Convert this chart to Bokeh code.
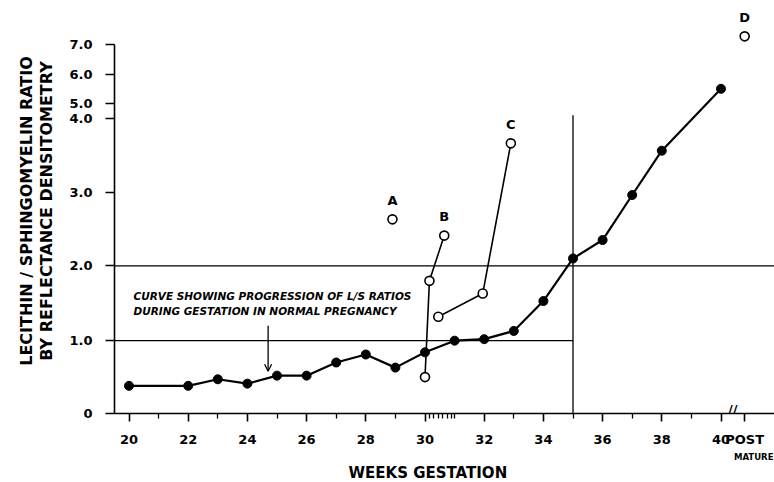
import numpy as np
from bokeh.plotting import figure
from bokeh.models import FixedTicker, CustomJSTickFormatter, Span, Label, Arrow, OpenHead, Title
from bokeh.embed import file_html
from bokeh.resources import INLINE

# ---------------- data ----------------
weeks_normal = [20, 22, 23, 24, 25, 26, 27, 28, 29, 30, 31, 32, 33, 34, 35, 36, 37, 38, 40]
ls_normal = [0.38, 0.38, 0.47, 0.41, 0.52, 0.52, 0.70, 0.81, 0.63, 0.84, 1.00, 1.02,
             1.13, 1.53, 2.10, 2.35, 2.96, 3.56, 5.50]

case_names = ["A", "B", "C", "D"]
case_weeks = [[28.9], [30.0, 30.15, 30.65], [30.45, 31.95, 32.9], [40.8]]
case_ls = [[2.63], [0.50, 1.80, 2.41], [1.32, 1.63, 3.66], [7.27]]

post_mature_week = 40.8
break_week = 40.4
ref_week = 35
ref_ls_low = 1.0
ref_ls_high = 2.0
ref_ls_top = 4.2

note_lines = ["CURVE SHOWING PROGRESSION OF L/S RATIOS",
              "DURING GESTATION IN NORMAL PREGNANCY"]
note_week = 20.15
note_ls = [1.6, 1.4]
arrow_week = 24.7
arrow_ls = [1.2, 0.58]

x_major = [20, 22, 24, 26, 28, 30, 32, 34, 36, 38, 40]
x_minor = [21, 23, 25, 27, 29, 31, 33, 35, 37, 39]
x_fine = [30.15, 30.3, 30.45, 30.6, 30.75, 30.9]

y_tick_values = [0, 1, 2, 3, 4, 5, 6, 7]
y_tick_labels = ["0", "1.0", "2.0", "3.0", "4.0", "5.0", "6.0", "7.0"]
# the printed ratio scale is not linear: position of each tick on the page
y_tick_pos = [0, 73, 148, 222, 296, 311, 340, 370]

x_title = "WEEKS GESTATION"
y_title = "LECITHIN / SPHINGOMYELIN RATIO\nBY REFLECTANCE DENSITOMETRY"


def ypos(v):
    v = np.atleast_1d(np.asarray(v, dtype=float))
    out = np.interp(v, y_tick_values, y_tick_pos)
    slope = (y_tick_pos[-1] - y_tick_pos[-2]) / (y_tick_values[-1] - y_tick_values[-2])
    hi = v > y_tick_values[-1]
    out[hi] = y_tick_pos[-1] + (v[hi] - y_tick_values[-1]) * slope
    return out


# ---------------- layout ----------------
W, H = 774, 482
LEFT, TOP, BOTTOM = 114, 8, 68
XS = 29.6                      # px per week
X0 = 20 - 14.5 / XS
X1 = X0 + (W - LEFT) / XS
FRAME_H = H - BOTTOM - TOP

p = figure(width=W, height=H, x_range=(X0, X1), y_range=(0, FRAME_H),
           output_backend="svg", toolbar_location=None,
           min_border_left=LEFT, min_border_right=0, min_border_top=TOP,
           min_border_bottom=BOTTOM)
p.xgrid.visible = False
p.ygrid.visible = False
p.outline_line_color = None
p.background_fill_color = "white"

FONT = "DejaVu Sans"

# x axis
xa = p.xaxis[0]
xa.ticker = FixedTicker(ticks=x_major + [post_mature_week], minor_ticks=x_minor + x_fine)
xa.formatter = CustomJSTickFormatter(code="return tick > 40.5 ? 'POST' : tick.toFixed(0);")
xa.major_tick_in = 0
xa.major_tick_out = 8
xa.minor_tick_in = 0
xa.minor_tick_out = 5
xa.axis_line_width = 1.6
xa.major_tick_line_width = 1.6
xa.minor_tick_line_width = 1.3
xa.major_label_text_font = FONT
xa.major_label_text_font_style = "bold"
xa.major_label_text_font_size = "13px"
xa.major_label_text_color = "black"
xa.major_label_standoff = 10

# y axis
ya = p.yaxis[0]
ya.ticker = FixedTicker(ticks=y_tick_pos, minor_ticks=[])
ya.formatter = CustomJSTickFormatter(args=dict(pos=y_tick_pos, lab=y_tick_labels),
                                     code="const i = pos.indexOf(tick); return i >= 0 ? lab[i] : '';")
ya.bounds = (0, y_tick_pos[-1])
ya.major_tick_in = 0
ya.major_tick_out = 9
ya.minor_tick_out = 0
ya.axis_line_width = 1.6
ya.major_tick_line_width = 1.6
ya.major_label_text_font = FONT
ya.major_label_text_font_style = "bold"
ya.major_label_text_font_size = "13px"
ya.major_label_text_color = "black"
ya.major_label_standoff = 13
ya.axis_label = y_title
ya.axis_label_text_font = FONT
ya.axis_label_text_font_style = "bold"
ya.axis_label_text_font_size = "16px"
ya.axis_label_text_color = "black"
ya.axis_label_text_line_height = 1.1
ya.axis_label_standoff = 10

# titles below the x axis
p.add_layout(Title(text="MATURE", align="right", offset=1, standoff=0,
                   vertical_align="middle", text_font="DejaVu Sans Condensed",
                   text_font_style="bold", text_font_size="9.5px", text_color="black"),
             "below")
p.add_layout(Title(text=x_title, align="left", offset=234, standoff=0,
                   vertical_align="middle", text_font=FONT, text_font_style="bold",
                   text_font_size="15px", text_color="black"), "below")

# reference lines
p.add_layout(Span(location=float(ypos(ref_ls_high)[0]), dimension="width",
                  line_color="black", line_width=1.3))
p.segment(x0=[X0], y0=ypos(ref_ls_low), x1=[ref_week], y1=ypos(ref_ls_low),
          line_color="black", line_width=1.3)
p.segment(x0=[ref_week], y0=[0], x1=[ref_week], y1=ypos(ref_ls_top),
          line_color="black", line_width=1.3)

# individual cases (open circles)
for name, wk, ls in zip(case_names, case_weeks, case_ls):
    yy = ypos(ls)
    if len(wk) > 1:
        p.line(wk, yy, line_color="black", line_width=1.6)
    p.scatter(wk, yy, marker="circle", size=9, fill_color="white",
              line_color="black", line_width=1.6)
    p.add_layout(Label(x=wk[-1], y=float(yy[-1]) + 19, text=name,
                       text_align="center", text_baseline="middle",
                       text_font=FONT, text_font_style="bold",
                       text_font_size="13px", text_color="black"))

# normal pregnancy curve
yn = ypos(ls_normal)
p.line(weeks_normal, yn, line_color="black", line_width=2.2)
p.scatter(weeks_normal, yn, marker="circle", size=9, fill_color="black",
          line_color="black")

# note + arrow
for txt, lsv in zip(note_lines, note_ls):
    p.add_layout(Label(x=note_week, y=float(ypos(lsv)[0]), text=txt,
                       text_align="left", text_baseline="middle",
                       text_font=FONT, text_font_style="bold italic",
                       text_font_size="10.5px", text_color="black"))
ay = ypos(arrow_ls)
p.add_layout(Arrow(end=OpenHead(size=7, line_width=1.3, line_color="black"),
                   x_start=arrow_week, y_start=float(ay[0]),
                   x_end=arrow_week, y_end=float(ay[1]),
                   line_color="black", line_width=1.3))

# axis break mark
p.add_layout(Label(x=break_week, y=4, text="//", text_align="center", text_baseline="middle",
                   text_font=FONT, text_font_style="bold", text_font_size="13px",
                   text_color="black"))

open("out.html", "w").write(file_html(p, INLINE))
